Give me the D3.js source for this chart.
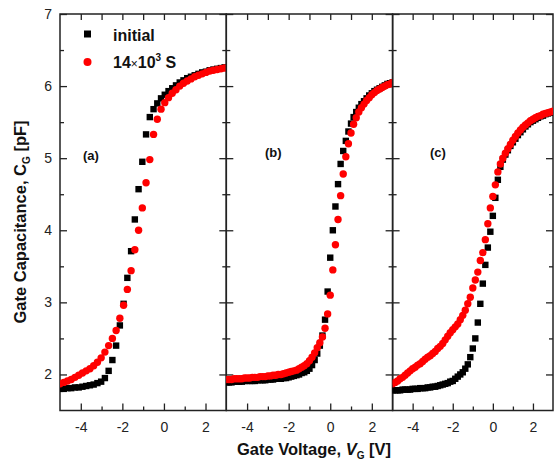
<!DOCTYPE html>
<html><head><meta charset="utf-8">
<script src="https://cdn.jsdelivr.net/npm/d3@7"></script>
<style>
body{margin:0;background:#fff}
text{font-family:Arial,"Liberation Sans",Helvetica,sans-serif}
</style>
</head><body>
<svg id="chart" width="558" height="464"></svg>
<script>
// ---------- data ----------
const voltageA = [-5, -4.82, -4.64, -4.46, -4.28, -4.1, -3.92, -3.74, -3.56, -3.38, -3.2, -3.02, -2.84, -2.66, -2.48, -2.3, -2.12, -1.94, -1.76, -1.58, -1.4, -1.22, -1.04, -0.86, -0.68, -0.5, -0.32, -0.14, 0.04, 0.22, 0.4, 0.58, 0.76, 0.94, 1.12, 1.3, 1.48, 1.66, 1.84, 2.02, 2.2, 2.38, 2.56, 2.74, 2.92];
const initialA = [1.80,1.80,1.81,1.81,1.82,1.82,1.83,1.84,1.85,1.86, 1.88,1.90,1.95,2.05,2.20,2.40,2.68,2.98,3.34,3.71, 4.15,4.57,4.95,5.33,5.57,5.68,5.76,5.83,5.88,5.93, 5.97,6.01,6.05,6.08,6.11,6.13,6.15,6.17,6.19,6.20, 6.22,6.23,6.24,6.25,6.26];
const stressedA = [1.87,1.89,1.91,1.93,1.96,1.99,2.02,2.05,2.08,2.12, 2.17,2.23,2.31,2.40,2.50,2.61,2.78,2.96,3.18,3.44, 3.73,4.00,4.31,4.66,4.98,5.33,5.54,5.68,5.77,5.84, 5.90,5.95,6.00,6.04,6.07,6.10,6.13,6.15,6.17,6.19, 6.21,6.22,6.23,6.24,6.25];

const voltageBC = [-5, -4.875, -4.75, -4.625, -4.5, -4.375, -4.25, -4.125, -4, -3.875, -3.75, -3.625, -3.5, -3.375, -3.25, -3.125, -3, -2.875, -2.75, -2.625, -2.5, -2.375, -2.25, -2.125, -2, -1.875, -1.75, -1.625, -1.5, -1.375, -1.25, -1.125, -1, -0.875, -0.75, -0.625, -0.5, -0.375, -0.25, -0.125, 0, 0.125, 0.25, 0.375, 0.5, 0.625, 0.75, 0.875, 1, 1.125, 1.25, 1.375, 1.5, 1.625, 1.75, 1.875, 2, 2.125, 2.25, 2.375, 2.5, 2.625, 2.75, 2.875, 3];
const initialB = [1.89,1.89,1.89,1.90,1.90,1.90,1.90,1.91,1.91,
  1.91,1.91,1.91,1.92,1.92,1.92,1.92,1.93,
  1.93,1.93,1.94,1.94,1.94,1.95,1.95,1.96,
  1.97,1.98,1.99,2.00,2.02,2.03,2.05,2.08,
  2.13,2.20,2.29,2.40,2.54,2.76,3.15,3.62,
  4.00,4.33,4.64,4.92,5.10,5.24,5.37,5.48,
  5.57,5.64,5.70,5.75,5.79,5.83,5.87,5.90,
  5.93,5.95,5.97,5.99,6.01,6.03,6.04,6.05];
const stressedB = [1.93,1.93,1.93,1.94,1.94,1.94,1.94,1.95,1.95,
  1.95,1.96,1.96,1.96,1.97,1.97,1.97,1.98,
  1.98,1.99,1.99,2.00,2.00,2.01,2.02,2.03,
  2.04,2.05,2.06,2.08,2.10,2.12,2.15,2.19,
  2.24,2.30,2.37,2.44,2.52,2.64,2.84,3.10,
  3.45,3.80,4.15,4.48,4.78,5.02,5.20,5.35,
  5.47,5.56,5.64,5.70,5.75,5.80,5.84,5.88,
  5.91,5.94,5.96,5.98,6.00,6.02,6.03,6.05];
const initialC = [1.78,1.78,1.78,1.78,1.79,1.79,1.79,1.79,1.80,
  1.80,1.80,1.81,1.81,1.81,1.82,1.82,1.83,
  1.83,1.84,1.85,1.86,1.87,1.88,1.90,1.91,
  1.94,1.97,2.00,2.03,2.08,2.14,2.24,2.36,
  2.50,2.72,2.98,3.26,3.52,3.76,3.98,4.20,
  4.45,4.70,4.88,4.98,5.05,5.11,5.17,5.22,
  5.27,5.32,5.36,5.40,5.44,5.47,5.50,5.52,
  5.54,5.56,5.58,5.59,5.61,5.62,5.63,5.64];
const stressedC = [1.87,1.89,1.91,1.94,1.96,1.99,2.02,2.05,2.08,
  2.10,2.13,2.15,2.18,2.21,2.24,2.26,2.29,
  2.32,2.36,2.39,2.43,2.48,2.53,2.58,2.62,
  2.66,2.70,2.76,2.82,2.89,2.98,3.07,3.20,
  3.31,3.42,3.58,3.69,3.87,4.09,4.31,4.47,
  4.63,4.81,4.92,5.00,5.07,5.13,5.19,5.25,
  5.30,5.35,5.39,5.43,5.46,5.49,5.52,5.54,
  5.56,5.58,5.59,5.61,5.62,5.63,5.64,5.65];

const panelLabels = ["(a)", "(b)", "(c)"];
const seriesNames = ["initial", "14\u00d710\u00b3 S"];
const xMajorTicks = [-4, -2, 0, 2];
const xMinorTicks = [-3, -1, 1];
const yMajorTicks = [2, 3, 4, 5, 6, 7];
const yMinorTicks = [2.5, 3.5, 4.5, 5.5, 6.5];
const xDomain = [-5, 3];
const yDomain = [1.5, 7];

// ---------- layout ----------
const svg = d3.select("#chart");
const plotTop = 14, plotBottom = 410.5;
const panels = [
  {x0: 60,    x1: 226.3, v: voltageA,  init: initialA, str: stressedA, label: panelLabels[0], lx: 83,  ly: 160},
  {x0: 226.3, x1: 392.6, v: voltageBC, init: initialB, str: stressedB, label: panelLabels[1], lx: 265, ly: 157},
  {x0: 392.6, x1: 553,   v: voltageBC, init: initialC, str: stressedC, label: panelLabels[2], lx: 430, ly: 157}
];
const y = d3.scaleLinear().domain(yDomain).range([plotBottom, plotTop]);
const axisColor = "#222";
const fmt = d => String(d);

function styleAxis(g) {
  g.select(".domain").remove();
  g.selectAll(".tick line").attr("stroke", axisColor).attr("stroke-width", 1.3);
  g.selectAll(".tick text").attr("fill", "#222").style("font-size", "14px");
}

panels.forEach((p, i) => {
  const x = d3.scaleLinear().domain(xDomain).range([p.x0, p.x1]);
  const g = svg.append("g");

  g.append("g").attr("transform", `translate(0,${plotBottom})`)
    .call(d3.axisBottom(x).tickValues(xMajorTicks).tickSize(-7).tickPadding(12).tickFormat(fmt)).call(styleAxis);
  g.append("g").attr("transform", `translate(0,${plotBottom})`)
    .call(d3.axisBottom(x).tickValues(xMinorTicks).tickSize(-4).tickFormat("")).call(styleAxis);
  g.append("g").attr("transform", `translate(0,${plotTop})`)
    .call(d3.axisTop(x).tickValues(xMajorTicks).tickSize(-6).tickFormat("")).call(styleAxis);
  g.append("g").attr("transform", `translate(0,${plotTop})`)
    .call(d3.axisTop(x).tickValues(xMinorTicks).tickSize(-6).tickFormat("")).call(styleAxis);
  g.append("g").attr("transform", `translate(${p.x0},0)`)
    .call(d3.axisLeft(y).tickValues(yMajorTicks).tickSize(-7).tickPadding(8).tickFormat(i === 0 ? fmt : ""))
    .call(styleAxis);
  g.append("g").attr("transform", `translate(${p.x0},0)`)
    .call(d3.axisLeft(y).tickValues(yMinorTicks).tickSize(-4).tickFormat("")).call(styleAxis);
  g.append("g").attr("transform", `translate(${p.x1},0)`)
    .call(d3.axisRight(y).tickValues(yMajorTicks).tickSize(-7).tickFormat("")).call(styleAxis);
  g.append("g").attr("transform", `translate(${p.x1},0)`)
    .call(d3.axisRight(y).tickValues(yMinorTicks).tickSize(-4).tickFormat("")).call(styleAxis);

  g.append("rect").attr("x", p.x0).attr("y", plotTop).attr("width", p.x1 - p.x0).attr("height", plotBottom - plotTop)
    .attr("fill", "none").attr("stroke", axisColor).attr("stroke-width", 1.5);

  const clip = "clip" + i;
  svg.append("clipPath").attr("id", clip).append("rect")
    .attr("x", p.x0).attr("y", plotTop).attr("width", p.x1 - p.x0).attr("height", plotBottom - plotTop);
  const marks = g.append("g").attr("clip-path", `url(#${clip})`);

  marks.selectAll("rect.init").data(p.v.map((v, k) => [v, p.init[k]])).join("rect")
    .attr("class", "init")
    .attr("x", d => x(d[0]) - 3.2).attr("y", d => y(d[1]) - 3.2)
    .attr("width", 6.4).attr("height", 6.4).attr("fill", "#000");
  marks.selectAll("circle.str").data(p.v.map((v, k) => [v, p.str[k]])).join("circle")
    .attr("class", "str")
    .attr("cx", d => x(d[0])).attr("cy", d => y(d[1])).attr("r", 3.7).attr("fill", "#ff0000");

  g.append("text").attr("x", p.lx).attr("y", p.ly).text(p.label)
    .style("font-size", "13px").style("font-weight", "bold").attr("fill", "#111");
});

// legend
const lg = svg.append("g");
lg.append("rect").attr("x", 84).attr("y", 30.5).attr("width", 7).attr("height", 7).attr("fill", "#000");
lg.append("text").attr("x", 113).attr("y", 40.5).text(seriesNames[0])
  .style("font-size", "16px").style("font-weight", "bold").attr("fill", "#111");
lg.append("circle").attr("cx", 87.5).attr("cy", 62).attr("r", 4).attr("fill", "#ff0000");
const t2 = lg.append("text").attr("x", 113).attr("y", 68)
  .style("font-size", "16px").style("font-weight", "bold").attr("fill", "#111");
t2.append("tspan").text("14");
t2.append("tspan").text("\u00d7").style("font-size", "12px").style("font-weight", "normal");
t2.append("tspan").text("10");
t2.append("tspan").text("3").style("font-size", "10px").attr("dy", -7);
t2.append("tspan").text(" S").attr("dy", 7);

// x title
const xt = svg.append("text").attr("x", 314).attr("y", 455).attr("text-anchor", "middle")
  .style("font-size", "16.5px").style("font-weight", "bold").attr("fill", "#111");
xt.append("tspan").text("Gate Voltage, ");
xt.append("tspan").text("V").style("font-style", "italic");
xt.append("tspan").text("G").style("font-size", "10px").attr("dy", 4);
xt.append("tspan").text(" [V]").attr("dy", -4);

// y title
const yt = svg.append("text").attr("transform", "translate(26,222) rotate(-90)").attr("text-anchor", "middle")
  .style("font-size", "16.5px").style("font-weight", "bold").attr("fill", "#111");
yt.append("tspan").text("Gate Capacitance, C");
yt.append("tspan").text("G").style("font-size", "10px").attr("dy", 4);
yt.append("tspan").text(" [pF]").attr("dy", -4);
</script>
</body></html>
